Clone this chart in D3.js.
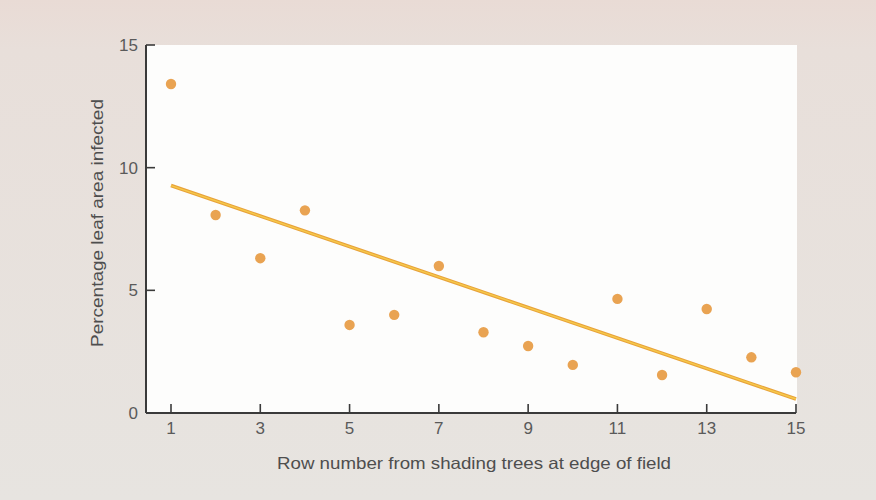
<!DOCTYPE html>
<html>
<head>
<meta charset="utf-8">
<script src="https://cdn.jsdelivr.net/npm/d3@7"></script>
<style>
  html, body { margin: 0; padding: 0; background: #e8e3de; }
  svg { display: block; }
</style>
</head>
<body>
<svg id="chart" width="876" height="500"></svg>
<script>
// Row number from the shading trees and the infected leaf area measured in that row
const rows = [1, 2, 3, 4, 5, 6, 7, 8, 9, 10, 11, 12, 13, 14, 15];
const infected = [13.41, 8.07, 6.31, 8.26, 3.59, 4.0, 5.99, 3.29, 2.73, 1.96, 4.65, 1.55, 4.24, 2.27, 1.66];

// Fitted trend line, given by its two end points
const trendRows = [1, 15];
const trendValues = [9.27, 0.57];

const xTicks = [1, 3, 5, 7, 9, 11, 13, 15];
const yTicks = [0, 5, 10, 15];

const svg = d3.select("#chart");
const W = 876, H = 500;

const defs = svg.append("defs");
const bg = defs.append("linearGradient").attr("id", "page").attr("x1", 0).attr("y1", 0).attr("x2", 0).attr("y2", 1);
bg.append("stop").attr("offset", "0%").attr("stop-color", "#e9dbd5");
bg.append("stop").attr("offset", "10%").attr("stop-color", "#e8dfda");
bg.append("stop").attr("offset", "100%").attr("stop-color", "#e7e4e0");
svg.append("rect").attr("width", W).attr("height", H).attr("fill", "url(#page)");

const x = d3.scaleLinear().domain([1, 15]).range([171, 796]);
const y = d3.scaleLinear().domain([0, 15]).range([413, 45]);
const x0 = 146;

// White plot panel
svg.append("rect")
  .attr("x", x0).attr("y", y(15))
  .attr("width", 797 - x0).attr("height", y(0) - y(15))
  .attr("fill", "#fdfdfc");

const ink = "#3a3a3a";
const labelInk = "#5a5a5a";
const font = "'Liberation Sans', Arial, Helvetica, sans-serif";

// X axis (ticks point up into the panel)
const gx = svg.append("g").attr("transform", `translate(0,${y(0)})`);
gx.append("line").attr("x1", x0).attr("x2", x(15)).attr("stroke", ink).attr("stroke-width", 2);
gx.selectAll("line.t").data(xTicks).join("line")
  .attr("class", "t")
  .attr("x1", d => x(d)).attr("x2", d => x(d))
  .attr("y1", 0).attr("y2", -9)
  .attr("stroke", ink).attr("stroke-width", 1.6);
gx.selectAll("text").data(xTicks).join("text")
  .attr("x", d => x(d)).attr("y", 21)
  .attr("text-anchor", "middle")
  .attr("font-family", font).attr("font-size", 17)
  .attr("fill", labelInk)
  .text(d => d);

// Y axis (ticks point right into the panel)
const gy = svg.append("g").attr("transform", `translate(${x0},0)`);
gy.append("line").attr("y1", y(0)).attr("y2", y(15)).attr("stroke", ink).attr("stroke-width", 2);
gy.selectAll("line.t").data(yTicks).join("line")
  .attr("class", "t")
  .attr("x1", 0).attr("x2", 9)
  .attr("y1", d => y(d)).attr("y2", d => y(d))
  .attr("stroke", ink).attr("stroke-width", 1.6);
gy.selectAll("text").data(yTicks).join("text")
  .attr("x", -8).attr("y", d => y(d) + 6)
  .attr("text-anchor", "end")
  .attr("font-family", font).attr("font-size", 17)
  .attr("fill", labelInk)
  .text(d => d);

// Axis titles
svg.append("text")
  .attr("x", 277).attr("y", 469)
  .attr("font-family", font).attr("font-size", 16.5)
  .attr("textLength", 394).attr("lengthAdjust", "spacingAndGlyphs")
  .attr("fill", "#4e4e4e")
  .text("Row number from shading trees at edge of field");

svg.append("text")
  .attr("transform", `translate(103,347) rotate(-90)`)
  .attr("font-family", font).attr("font-size", 17)
  .attr("textLength", 248).attr("lengthAdjust", "spacingAndGlyphs")
  .attr("fill", "#4e4e4e")
  .text("Percentage leaf area infected");

// Trend line
const line = d3.line().x(d => x(d[0])).y(d => y(d[1]));
const trend = d3.zip(trendRows, trendValues);
svg.append("path").datum(trend).attr("d", line)
  .attr("stroke", "#e8a23a").attr("stroke-width", 3.6).attr("fill", "none");
svg.append("path").datum(trend).attr("d", line)
  .attr("stroke", "#f6c94a").attr("stroke-width", 1.4).attr("fill", "none");

// Data points
svg.selectAll("circle.pt").data(d3.zip(rows, infected)).join("circle")
  .attr("class", "pt")
  .attr("cx", d => x(d[0])).attr("cy", d => y(d[1]))
  .attr("r", 5.2)
  .attr("fill", "#e9a352");
</script>
</body>
</html>
